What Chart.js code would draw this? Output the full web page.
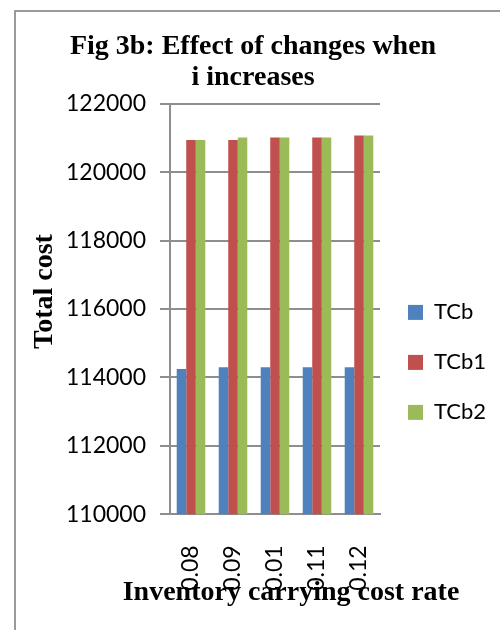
<!DOCTYPE html>
<html><head><meta charset="utf-8">
<script src="https://cdn.jsdelivr.net/npm/chart.js@4.4.1/dist/chart.umd.min.js"></script>
<style>
html,body{margin:0;padding:0;background:#fff;}
#wrap{position:relative;width:500px;height:630px;overflow:hidden;background:#fff;}
#frame{position:absolute;left:14px;top:10px;width:484px;height:640px;border-top:2px solid #9a9a9a;border-left:2px solid #9a9a9a;border-right:1px solid #c8c8c8;pointer-events:none;}
canvas{position:absolute;left:0;top:0;}
</style></head><body>
<div id="wrap"><canvas id="c" width="500" height="630"></canvas><div id="frame"></div></div>
<script>
// ---- data ----
const categories = ['0.08', '0.09', '0.01', '0.11', '0.12'];
const seriesNames = ['TCb', 'TCb1', 'TCb2'];
const tcb  = [114250, 114300, 114300, 114300, 114300];
const tcb1 = [120940, 120940, 121010, 121010, 121070];
const tcb2 = [120940, 121010, 121010, 121010, 121070];
const yTickValues = [110000, 112000, 114000, 116000, 118000, 120000, 122000];
const titleLines = ['Fig 3b: Effect of changes when', 'i increases'];
const xTitle = 'Inventory carrying cost rate';
const yTitle = 'Total cost';

// ---- styles ----
const colors = ['#4F81BD', '#C0504D', '#9BBB59'];
const gridColor = '#8e8e8e';
const tickFont = {family: 'Lato', size: 23};
const legendFont = {family: 'Lato', size: 22};
const serifBold = {family: 'Liberation Serif', size: 28, weight: 'bold'};

// legend width -> right padding so plot area ends near x=380
const mctx = document.createElement('canvas').getContext('2d');
mctx.font = '22px Lato';
const maxText = Math.max(...seriesNames.map(s => mctx.measureText(s).width));
const legendPad = 28;
const legendWidth = legendPad + 15 + 11 + maxText + 10;
const rightPad = Math.max(0, 500 - 380 - legendWidth);

const xTitlePlugin = {
  id: 'xTitle',
  afterDraw(chart) {
    const {ctx, chartArea} = chart;
    ctx.save();
    ctx.font = 'bold 28px "Liberation Serif"';
    ctx.fillStyle = '#000';
    ctx.textAlign = 'center';
    ctx.textBaseline = 'alphabetic';
    ctx.fillText(xTitle, (chartArea.left + chartArea.right) / 2 + 16, chartArea.bottom + 86);
    ctx.restore();
  }
};

const datasets = [tcb, tcb1, tcb2].map((d, i) => ({
  label: seriesNames[i],
  data: d,
  backgroundColor: colors[i],
  borderWidth: 0,
  categoryPercentage: 0.68,
  barPercentage: 1.0
}));

new Chart(document.getElementById('c'), {
  type: 'bar',
  data: {labels: categories, datasets},
  options: {
    responsive: false,
    animation: false,
    devicePixelRatio: 1,
    layout: {padding: {left: 10, right: rightPad, top: 0, bottom: 0}},
    plugins: {
      title: {
        display: true,
        text: titleLines,
        color: '#000',
        font: Object.assign({}, serifBold, {lineHeight: 31 / 28}),
        padding: {top: 31, bottom: 10.7}
      },
      legend: {
        position: 'right',
        align: 'start',
        title: {display: true, text: '', padding: {top: 259, bottom: 0}},
        labels: {
          font: legendFont,
          color: '#000',
          boxWidth: 15,
          boxHeight: 15,
          padding: legendPad
        }
      },
      tooltip: {enabled: false}
    },
    scales: {
      x: {
        grid: {display: false, drawTicks: false},
        border: {display: true, color: gridColor, width: 2},
        ticks: {
          font: tickFont,
          color: '#000',
          minRotation: 90,
          maxRotation: 90,
          padding: 31,
          autoSkip: false
        },
        afterFit(scale) { scale.height = 630 - 514.3; }
      },
      y: {
        min: 110000,
        max: 122000,
        afterBuildTicks(scale) { scale.ticks = yTickValues.map(v => ({value: v})); },
        grid: {color: gridColor, lineWidth: 2, tickLength: 10, drawTicks: true},
        border: {display: true, color: gridColor, width: 2},
        ticks: {
          font: tickFont,
          color: '#000',
          padding: 14,
          callback: v => String(v)
        },
        title: {
          display: true,
          text: '     ' + yTitle,
          color: '#000',
          font: serifBold,
          padding: {top: 17.7, bottom: 0}
        },
        afterFit(scale) { scale.width = 160; }
      }
    }
  },
  plugins: [xTitlePlugin]
});
</script>
</body></html>
